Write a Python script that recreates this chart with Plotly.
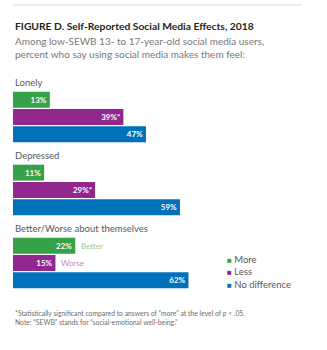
import plotly.graph_objects as go
from plotly.subplots import make_subplots

# ---- data ----
groups = ["Lonely", "Depressed", "Better/Worse about themselves"]
series = ["More", "Less", "No difference"]
more_vals = [13, 11, 22]
less_vals = [39, 29, 15]
nodiff_vals = [47, 59, 62]
more_labels = ["13%", "11%", "22%"]
less_labels = ["39%*", "29%*", "15%"]
nodiff_labels = ["47%", "59%", "62%"]
side_notes = ["Better", "Worse"]

colors = ["#35a149", "#92278f", "#0072bc"]
note_colors = ["#8fcf8a", "#c77fc4"]

W, H = 327, 350
def py(px):
    return 1 - px / H

# pixel rows of each group's bar block (top, bottom)
blocks = [(91, 143), (164, 216), (237, 289)]
x0, x1 = 13 / W, 296 / W

fig = make_subplots(rows=3, cols=1)
vals = [more_vals, less_vals, nodiff_vals]
labs = [more_labels, less_labels, nodiff_labels]

for g in range(3):
    for s in range(3):
        fig.add_trace(
            go.Bar(
                x=[vals[s][g]], y=[series[s]], orientation="h",
                marker=dict(color=colors[s], line=dict(width=0)),
                text=[labs[s][g]], textposition="inside",
                insidetextanchor="end", textangle=0,
                textfont=dict(family="Lato", size=8, color="white", weight="bold"),
                showlegend=False, hoverinfo="skip",
            ),
            row=g + 1, col=1,
        )
    ax = "" if g == 0 else str(g + 1)
    top, bot = blocks[g]
    fig.update_layout(**{
        f"yaxis{ax}": dict(domain=[py(bot), py(top)], categoryorder="array",
                           categoryarray=series[::-1], visible=False,
                           fixedrange=True),
        f"xaxis{ax}": dict(domain=[x0, x1], range=[0, 100], visible=False,
                           fixedrange=True),
    })
    fig.add_annotation(
        text=groups[g], xref="paper", yref="paper", x=x0, y=py(top - 1),
        xanchor="left", yanchor="bottom", showarrow=False,
        font=dict(family="Lato", size=9.5, color="#58595b"),
    )

# Better / Worse side notes
for s in range(2):
    fig.add_annotation(
        text=side_notes[s], xref="x3", yref="y3", x=vals[s][2], y=series[s],
        xanchor="left", xshift=4, showarrow=False,
        font=dict(family="Lato", size=8, color=note_colors[s]),
    )

# legend as text
leg = "<br>".join(
    f'<span style="color:{c};font-size:8px">■</span> {n}' for c, n in zip(colors, series)
)
fig.add_annotation(
    text=leg, xref="paper", yref="paper", x=225 / W, y=py(252),
    xanchor="left", yanchor="top", align="left", showarrow=False,
    font=dict(family="Lato", size=9.5, color="#58595b"),
)

# title & subtitle
fig.add_annotation(
    text="<b>FIGURE D. Self-Reported Social Media Effects, 2018</b>",
    xref="paper", yref="paper", x=x0, y=py(18), xanchor="left", yanchor="top",
    showarrow=False, font=dict(family="Lato", size=10.3, color="#231f20"),
)
fig.add_annotation(
    text="Among low-SEWB 13- to 17-year-old social media users,<br>percent who say using social media makes them feel:",
    xref="paper", yref="paper", x=x0, y=py(33), xanchor="left", yanchor="top",
    align="left", showarrow=False,
    font=dict(family="Lato", size=10, color="#77787b"),
)

# footnotes
fig.add_annotation(
    text="*Statistically significant compared to answers of “more” at the level of <i>p</i> < .05.<br>Note: “SEWB” stands for “social-emotional well-being.”",
    xref="paper", yref="paper", x=x0, y=py(307), xanchor="left", yanchor="top",
    align="left", showarrow=False,
    font=dict(family="Lato", size=6.8, color="#6d6e71"),
)

# top rule
fig.add_shape(type="line", xref="paper", yref="paper", x0=x0, x1=302 / W,
              y0=py(5), y1=py(5), line=dict(color="#c4e2bf", width=1.2))

fig.update_layout(
    width=W, height=H, margin=dict(l=0, r=0, t=0, b=0),
    paper_bgcolor="white", plot_bgcolor="white",
    bargap=0.08, showlegend=False,
    uniformtext=dict(minsize=6, mode="show"),
)

fig.write_html("out.html", config={"displayModeBar": False})
